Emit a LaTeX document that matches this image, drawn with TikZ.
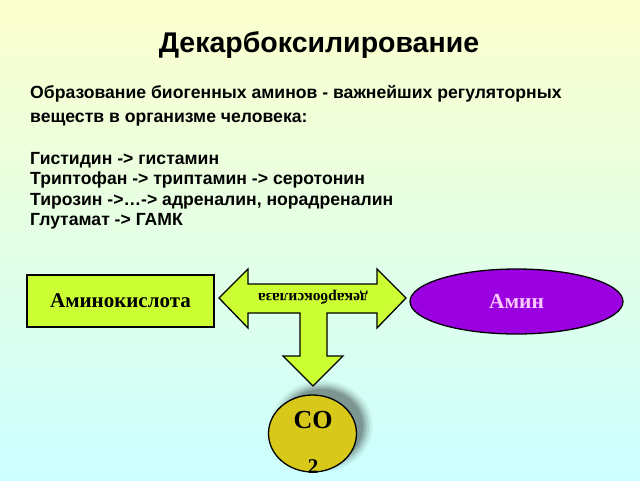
\documentclass[tikz,border=0pt]{standalone}
\usepackage{fontspec}
\setmainfont{Liberation Serif}
\newfontfamily\arialf{Liberation Sans}
\usetikzlibrary{shapes.geometric}
\definecolor{bgtop}{RGB}{252,255,205}
\definecolor{bgbot}{RGB}{204,255,255}
\definecolor{lime}{RGB}{204,255,51}
\definecolor{amin}{RGB}{155,0,225}
\definecolor{aminText}{RGB}{250,200,255}
\definecolor{coFill}{RGB}{215,200,25}
\tikzset{
  bodytext/.style={anchor=base west, inner sep=0pt, font=\arialf\bfseries\fontsize{17.6}{20}\selectfont},
  limebox/.style={draw=black, line width=1.3pt, fill=lime},
}
\begin{document}
\begin{tikzpicture}[x=1pt,y=-1pt]
\useasboundingbox (0,0) rectangle (640,480);
\shade[top color=bgtop, bottom color=bgbot] (0,0) rectangle (640,480);
% title
\node[inner sep=0pt, font=\arialf\bfseries\fontsize{28.5}{30}\selectfont] (title) at (319,45) {Декарбоксилирование};
% body text
\node[bodytext] (l1) at (30,98) {Образование биогенных аминов - важнейших регуляторных};
\node[bodytext] (l2) at (30,122) {веществ в организме человека:};
\node[bodytext] (l3) at (30,164) {Гистидин -> гистамин};
\node[bodytext] (l4) at (30,184.5) {Триптофан -> триптамин -> серотонин};
\node[bodytext] (l5) at (30,205) {Тирозин ->…-> адреналин, норадреналин};
\node[bodytext] (l6) at (30,225.5) {Глутамат -> ГАМК};
% amino acid box
\node[limebox, minimum width=187pt, minimum height=52pt, inner sep=0pt,
      font=\bfseries\fontsize{21}{23}\selectfont] (acid) at (120.5,301) {Аминокислота};
% amine ellipse
\node[ellipse, draw=black, line width=1.3pt, fill=amin, minimum width=213pt, minimum height=65pt,
      inner sep=0pt, text=aminText, font=\bfseries\fontsize{21.5}{23}\selectfont] (amine) at (516.5,301.5) {Амин};
% CO2 shadow
\foreach \r/\o in {52/0.04,50/0.05,48/0.07,46/0.09,44/0.11,42/0.13}{
  \fill[black, opacity=\o] (322,426) ellipse[x radius=\r*0.98, y radius=\r*0.88];
}
% CO2 ellipse
\node[ellipse, draw=black, line width=1.3pt, fill=coFill, minimum width=88pt, minimum height=77pt, inner sep=0pt] (co2) at (312.5,433.5) {};
\node[inner sep=0pt, font=\bfseries\fontsize{26}{28}\selectfont] (cotext) at (313,420) {CO};
\node[inner sep=0pt, font=\bfseries\fontsize{21}{24}\selectfont] (sub2) at (313,467) {2};
% T-shaped arrow
\draw[limebox, line join=miter] (219,298) -- (248,269) -- (248,284) -- (377,284) -- (377,269) -- (406,298)
  -- (377,328) -- (377,313) -- (327,313) -- (327,356) -- (343,356) -- (313,386) -- (283,356)
  -- (300,356) -- (300,313) -- (248,313) -- (248,328) -- cycle;
\node[inner sep=0pt, rotate=180, font=\bfseries\fontsize{15.5}{17}\selectfont] (enz) at (313,297) {декарбоксилаза};
\end{tikzpicture}
\end{document}
